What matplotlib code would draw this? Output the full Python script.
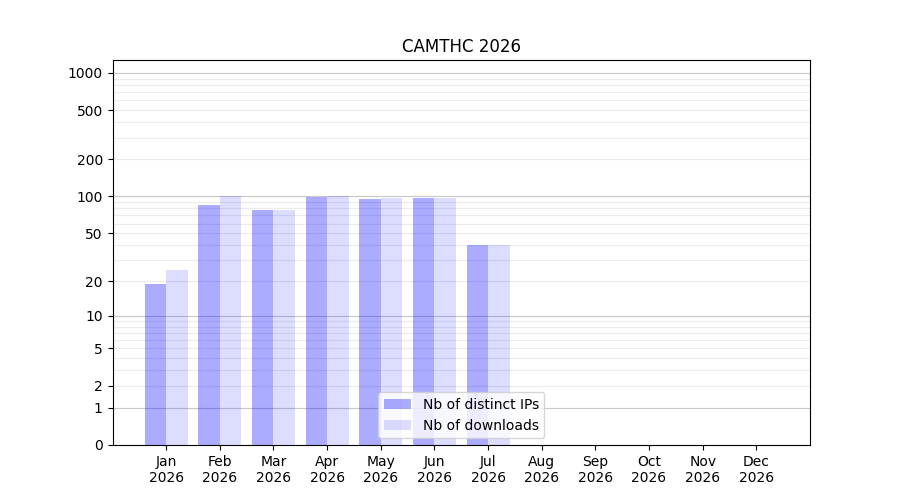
import numpy as np
import matplotlib
matplotlib.use("Agg")
import matplotlib.pyplot as plt

months = ["Jan", "Feb", "Mar", "Apr", "May", "Jun",
          "Jul", "Aug", "Sep", "Oct", "Nov", "Dec"]
year = "2026"
distinct_ips = [19, 85, 78, 99, 95, 97, 40, 0, 0, 0, 0, 0]
downloads = [25, 100, 78, 100, 97, 97, 40, 0, 0, 0, 0, 0]
ytick_values = [0, 1, 2, 5, 10, 20, 50, 100, 200, 500, 1000]


def fwd(y):
    return np.log10(1 + np.clip(y, 0, None))


def inv(y):
    return 10 ** y - 1


fig, ax = plt.subplots(figsize=(9, 5), dpi=100)
x = np.arange(len(months))

ax.set_yscale("function", functions=(fwd, inv))

# light grid at 2..9 of each decade, darker at the powers of ten
for dec in [1, 10, 100]:
    for m in range(2, 10):
        ax.axhline(m * dec, color="#ebebeb", linewidth=0.8, zorder=0.5)
for v in [1, 10, 100, 1000]:
    ax.axhline(v, color="#c8c8c8", linewidth=0.8, zorder=0.6)

ax.bar(x, distinct_ips, width=-0.4, align="edge", color="blue", alpha=0.33,
       label="Nb of distinct IPs", zorder=1)
ax.bar(x, downloads, width=0.4, align="edge", color="blue", alpha=0.135,
       label="Nb of downloads", zorder=1)

ax.set_ylim(0, 1270)
ax.set_yticks(ytick_values)
ax.set_yticklabels([str(v) for v in ytick_values])
ax.yaxis.set_minor_locator(matplotlib.ticker.NullLocator())
ax.set_xticks(x)
ax.set_xticklabels([f"{m}\n{year}" for m in months])
ax.set_xlim(-1, 12)

ax.set_title("CAMTHC 2026")
ax.legend(loc="lower center")

plt.savefig("out.png", dpi=100)
